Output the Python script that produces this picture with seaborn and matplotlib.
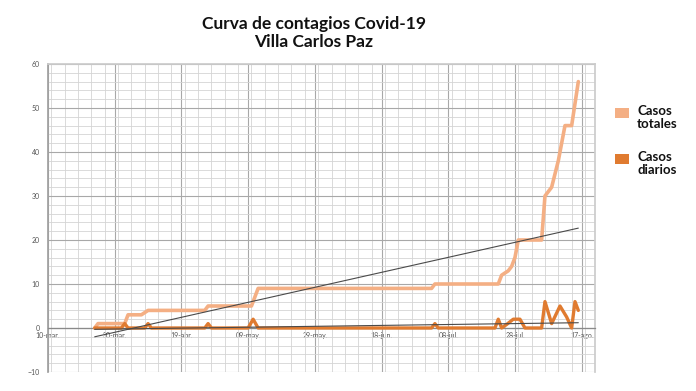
import matplotlib
matplotlib.use("Agg")
import numpy as np
import pandas as pd
import seaborn as sns
import matplotlib.pyplot as plt
import matplotlib.dates as mdates
from matplotlib.ticker import FixedLocator, MultipleLocator, NullFormatter
from matplotlib.patches import Rectangle

# ---------------- data ----------------
start_date = pd.Timestamp("2020-03-10")

# Casos totales: day offset from 10-mar and value at that day
total_days = [14, 15, 23, 24, 28, 30, 47, 48, 61, 63, 115, 116, 135, 136, 138, 139, 140,
              141, 148, 149, 151, 153, 155, 157, 159]
total_vals = [0, 1, 1, 3, 3, 4, 4, 5, 5, 9, 9, 10, 10, 12, 13, 14, 16,
              20, 20, 30, 32, 38, 46, 46, 56]

# Casos diarios
daily_days = [14, 22, 23, 24, 29, 30, 31, 47, 48, 49, 60, 61.5, 63, 115, 116, 117,
              134, 135, 136, 137.5, 139.5, 141.5, 143, 148, 149, 151, 153.5, 155.5,
              157, 158, 159]
daily_vals = [0, 0, 1, 0, 0, 1, 0, 0, 1, 0, 0, 2, 0, 0, 1, 0,
              0, 2, 0, 0.8, 2, 2, 0, 0, 6, 1, 5, 2.5,
              0, 6, 4]

# linear trend lines (end points)
trend_days = [14, 159]
trend_total = [-2.0, 22.7]
trend_daily = [-0.3, 1.2]

tick_days = [0, 20, 40, 60, 80, 100, 120, 140, 160]
tick_labels = ["10-mar.", "30-mar.", "19-abr.", "09-may.", "29-may.",
               "18-jun.", "08-jul.", "28-jul.", "17-ago."]
y_ticks = [-10, 0, 10, 20, 30, 40, 50, 60]

legend_labels = ["Casos\ntotales", "Casos\ndiarios"]
col_total = "#F4AF84"
col_daily = "#E07B30"
col_trend = "#4a4a4a"


def to_dates(days):
    return start_date + pd.to_timedelta(np.asarray(days, dtype=float), unit="D")


df_total = pd.DataFrame({"fecha": to_dates(total_days), "casos": total_vals})
df_daily = pd.DataFrame({"fecha": to_dates(daily_days), "casos": daily_vals})
df_tt = pd.DataFrame({"fecha": to_dates(trend_days), "casos": trend_total})
df_td = pd.DataFrame({"fecha": to_dates(trend_days), "casos": trend_daily})

sns.set_theme(style="white")
plt.rcParams["font.family"] = ["Lato", "DejaVu Sans"]

fig = plt.figure(figsize=(6.96, 3.91), dpi=100)
ax = fig.add_axes([48 / 696, 1 - 372 / 391, (595 - 48) / 696, (372 - 64) / 391])

sns.lineplot(data=df_total, x="fecha", y="casos", ax=ax, color=col_total, lw=2.6,
             estimator=None, zorder=3)
sns.lineplot(data=df_daily, x="fecha", y="casos", ax=ax, color=col_daily, lw=2.4,
             estimator=None, zorder=4)
sns.lineplot(data=df_tt, x="fecha", y="casos", ax=ax, color=col_trend, lw=0.8,
             estimator=None, zorder=5)
sns.lineplot(data=df_td, x="fecha", y="casos", ax=ax, color=col_trend, lw=0.8,
             estimator=None, zorder=5)

x0 = mdates.date2num(start_date)
ax.set_xlim(x0, x0 + 164)
ax.set_ylim(-10, 60)

ax.xaxis.set_major_locator(FixedLocator([x0 + d for d in tick_days]))
ax.set_xticklabels(tick_labels)
ax.xaxis.set_minor_locator(MultipleLocator(4))
ax.xaxis.set_minor_formatter(NullFormatter())
ax.set_yticks(y_ticks)
ax.yaxis.set_minor_locator(MultipleLocator(2))

ax.grid(which="major", color="#a8a8a8", lw=0.8)
ax.grid(which="minor", color="#d4d4d4", lw=0.6)
ax.set_axisbelow(True)

ax.spines["bottom"].set_position(("data", 0))
ax.spines["bottom"].set_color("#8a8a8a")
ax.spines["bottom"].set_linewidth(0.9)
ax.spines["left"].set_color("#a0a0a0")
ax.spines["top"].set_color("#cccccc")
ax.spines["right"].set_color("#cccccc")
ax.tick_params(axis="both", which="both", length=0, labelsize=5, labelcolor="#555555")
ax.tick_params(axis="x", pad=3)
ax.tick_params(axis="y", pad=6)
ax.set_xlabel("")
ax.set_ylabel("")

fig.text(314 / 696, 1 - 33 / 391, "Curva de contagios Covid-19\nVilla Carlos Paz",
         ha="center", va="center", fontsize=12.5, fontweight="bold", color="#111111",
         linespacing=1.2)

# legend drawn as squares + text
for i, (lab, col) in enumerate(zip(legend_labels, [col_total, col_daily])):
    ytop = 108 + i * 46
    fig.add_artist(Rectangle((615 / 696, 1 - (ytop + 10) / 391), 14 / 696, 10 / 391,
                             transform=fig.transFigure, color=col, lw=0))
    fig.text(637 / 696, 1 - (ytop - 3) / 391, lab, ha="left", va="top", fontsize=9.5,
             fontweight="bold", color="#111111", linespacing=1.15)

fig.savefig("out.png", dpi=100)
